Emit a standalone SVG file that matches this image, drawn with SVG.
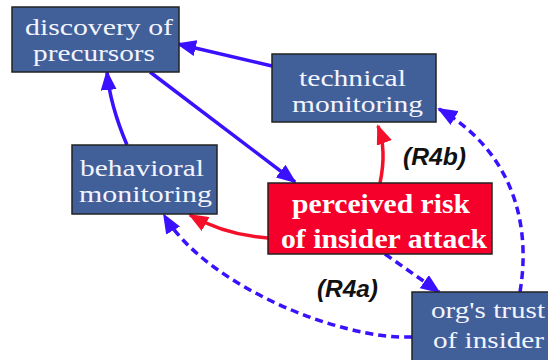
<svg xmlns="http://www.w3.org/2000/svg" width="548" height="360" viewBox="0 0 548 360">
<style>
.box{fill:#41609a;stroke:#222;stroke-width:1.5}
.rbox{fill:#f5002a;stroke:#222;stroke-width:1.5}
.t{font-family:"Liberation Serif","Times New Roman",serif;font-size:23px;fill:#f4f4ff}
.tb{font-family:"Liberation Serif","Times New Roman",serif;font-size:28px;font-weight:bold;fill:#fff}
.lbl{font-family:"Liberation Sans",Arial,sans-serif;font-size:24px;font-weight:bold;font-style:italic;fill:#111}
.cb{fill:none;stroke:#3a10ff;stroke-width:3.5}
.cr{fill:none;stroke:#f5102a;stroke-width:3.5}
.cd{fill:none;stroke:#3a10ff;stroke-width:3.5;stroke-dasharray:8 5}
</style>
<defs>
<marker id="ab" viewBox="0 0 20 16" markerWidth="20" markerHeight="16" refX="18" refY="8" orient="auto" markerUnits="userSpaceOnUse"><path d="M0,0 L20,8 L0,16 z" fill="#3a10ff"/></marker>
<marker id="ar" viewBox="0 0 20 16" markerWidth="20" markerHeight="16" refX="18" refY="8" orient="auto" markerUnits="userSpaceOnUse"><path d="M0,0 L20,8 L0,16 z" fill="#f5102a"/></marker>
</defs>
<g id="connectors">
<path class="cb" d="M272,66 L178,44" marker-end="url(#ab)"/>
<path class="cb" d="M127,145 Q110,105 107,72" marker-end="url(#ab)"/>
<path class="cb" d="M150,72 L295,182" marker-end="url(#ab)"/>
<path class="cr" d="M380,183 Q387,150 378,126" marker-end="url(#ar)"/>
<path class="cr" d="M268,238 Q225,235 190,215" marker-end="url(#ar)"/>
<path class="cd" d="M385,254 L439,292" marker-end="url(#ab)"/>
<path class="cd" d="M412,337 C340,340 205,285 164,215" marker-end="url(#ab)"/>
<path class="cd" d="M520,292 C532,220 510,150 439,109" marker-end="url(#ab)"/>
</g>
<g id="discovery">
<rect class="box" x="12" y="7" width="167" height="65"/>
<text class="t" x="25" y="35" textLength="148" lengthAdjust="spacingAndGlyphs">discovery of</text>
<text class="t" x="33" y="61" textLength="122" lengthAdjust="spacingAndGlyphs">precursors</text>
</g>
<g id="technical">
<rect class="box" x="272" y="54" width="164" height="68"/>
<text class="t" x="299" y="86" textLength="107" lengthAdjust="spacingAndGlyphs">technical</text>
<text class="t" x="292" y="112" textLength="131" lengthAdjust="spacingAndGlyphs">monitoring</text>
</g>
<g id="behavioral">
<rect class="box" x="72" y="145" width="145" height="69"/>
<text class="t" x="80" y="176" textLength="124" lengthAdjust="spacingAndGlyphs">behavioral</text>
<text class="t" x="79" y="202" textLength="133" lengthAdjust="spacingAndGlyphs">monitoring</text>
</g>
<g id="risk">
<rect class="rbox" x="268" y="183" width="224" height="71"/>
<text class="tb" x="292" y="213" textLength="178" lengthAdjust="spacingAndGlyphs">perceived risk</text>
<text class="tb" x="281" y="248" textLength="206" lengthAdjust="spacingAndGlyphs">of insider attack</text>
</g>
<g id="trust">
<rect class="box" x="412" y="292" width="150" height="80"/>
<text class="t" x="431" y="318" textLength="114" lengthAdjust="spacingAndGlyphs">org's trust</text>
<text class="t" x="433" y="348" textLength="111" lengthAdjust="spacingAndGlyphs">of insider</text>
</g>
<g id="labels">
<text class="lbl" x="403" y="165" textLength="63" lengthAdjust="spacingAndGlyphs">(R4b)</text>
<text class="lbl" x="317" y="297" textLength="61" lengthAdjust="spacingAndGlyphs">(R4a)</text>
</g>
</svg>
